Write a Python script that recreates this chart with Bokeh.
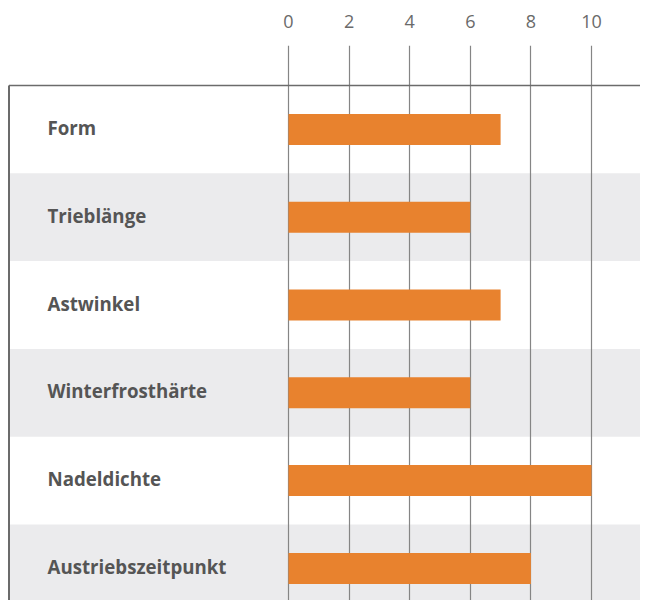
from bokeh.plotting import figure
from bokeh.models import Range1d, FixedTicker, ColumnDataSource
from bokeh.core.properties import value
from bokeh.embed import file_html
from bokeh.resources import INLINE

categories = ["Form", "Trieblänge", "Astwinkel", "Winterfrosthärte", "Nadeldichte", "Austriebszeitpunkt"]
scores = [7, 6, 7, 6, 10, 8]
tick_values = [0, 2, 4, 6, 8, 10]

# layout constants (pixels)
W, H = 640, 600
TOP_PAD = 45          # frame top (grid lines start here)
zero_px = 288.0       # pixel of value 0
px_per_unit = 30.3
row_px = 87.8
first_row_top_px = 85.0
border_px = 8.5
frame_h = H - TOP_PAD

x_start = -zero_px / px_per_unit
x_end = (W - zero_px) / px_per_unit
y_top = -0.5 - (first_row_top_px - TOP_PAD) / row_px
y_bottom = y_top + frame_h / row_px
x_border = x_start + border_px / px_per_unit

pos = list(range(len(categories)))
src = ColumnDataSource(dict(y=pos, cat=categories, score=scores))
band_y = [i for i in pos if i % 2 == 1]

p = figure(width=W, height=H, output_backend="svg", toolbar_location=None,
           x_range=Range1d(x_start, x_end), y_range=Range1d(y_bottom, y_top),
           x_axis_location="above", y_axis_location=None,
           min_border=0, min_border_top=TOP_PAD)
p.outline_line_color = None
p.background_fill_color = "white"
p.border_fill_color = "white"

ax = p.xaxis[0]
ax.ticker = FixedTicker(ticks=tick_values)
ax.axis_line_color = None
ax.major_tick_line_color = None
ax.minor_tick_line_color = None
ax.major_label_text_font = "Open Sans"
ax.major_label_text_font_size = "18px"
ax.major_label_text_color = "#6a6a6a"
ax.major_label_standoff = 12

p.ygrid.grid_line_color = None
p.xgrid.ticker = FixedTicker(ticks=tick_values)
p.xgrid.grid_line_color = "#858585"
p.xgrid.grid_line_width = 1.2

# alternating bands
p.hbar(y=band_y, left=x_border, right=x_end, height=1.0,
       fill_color="#ebebed", line_color=None, level="image")

# bars
p.hbar(y="y", left=0, right="score", height=31.0 / row_px, source=src,
       fill_color="#e8822e", line_color=None)

# frame border lines
p.segment(x0=[x_border], y0=[-0.5], x1=[x_end], y1=[-0.5], line_color="#6b6b6b", line_width=1.5)
p.segment(x0=[x_border], y0=[-0.5], x1=[x_border], y1=[y_bottom], line_color="#6b6b6b", line_width=2)

# category labels
p.text(x=x_start, y="y", text="cat", source=src, x_offset=47, y_offset=-2,
       text_font=value("Open Sans"), text_font_style="bold", text_font_size="18.7px",
       text_color="#555555", text_align="left", text_baseline="middle")

open("out.html", "w").write(file_html(p, INLINE))
